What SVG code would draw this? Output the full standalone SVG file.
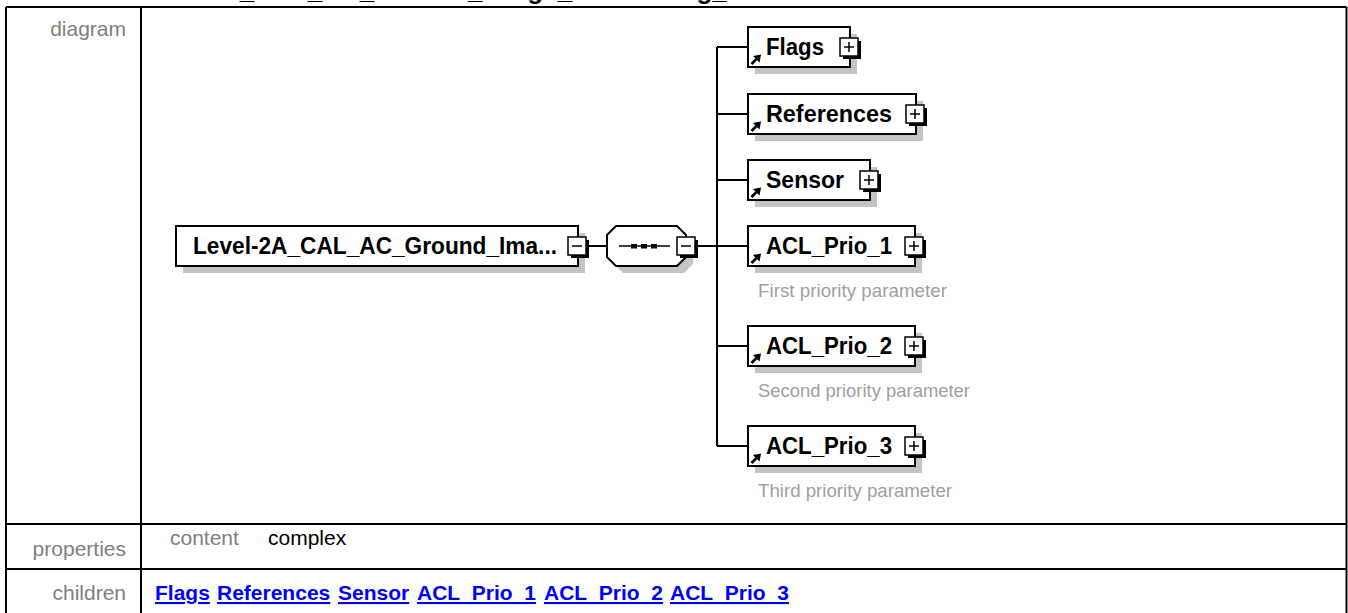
<svg xmlns="http://www.w3.org/2000/svg" xmlns:xlink="http://www.w3.org/1999/xlink" width="1348" height="613" viewBox="0 0 1348 613">
<style>
.heading{font-family:"Liberation Sans",Arial,sans-serif;font-weight:bold;font-size:26px;fill:#000}
.lbl{font-family:"Liberation Sans",Arial,sans-serif;font-size:21px;fill:#808080}
.val{font-family:"Liberation Sans",Arial,sans-serif;font-size:21px;fill:#000}
.link{font-family:"Liberation Sans",Arial,sans-serif;font-weight:bold;font-size:21px;fill:#0000ff;text-decoration:underline}
.grid{stroke:#000;stroke-width:2;fill:none}
.box{fill:#fff;stroke:#000;stroke-width:2}
.shadow{fill:#c4c4c4}
.name{font-family:"Liberation Sans",Arial,sans-serif;font-weight:bold;font-size:23px;fill:#000}
.desc{font-family:"Liberation Sans",Arial,sans-serif;font-size:18.5px;fill:#a0a0a0}
.conn{stroke:#000;stroke-width:2;fill:none}
</style>
<defs>
<g id="plus">
<rect x="3" y="3" width="18" height="18" fill="#000"/>
<rect x="0" y="0" width="18" height="18" fill="#fff" stroke="#000" stroke-width="1.5"/>
<path d="M4 9H14M9 4V14" stroke="#000" stroke-width="1.5"/>
</g>
<g id="minus">
<rect x="3" y="3" width="18" height="18" fill="#000"/>
<rect x="0" y="0" width="18" height="18" fill="#fff" stroke="#000" stroke-width="1.5"/>
<path d="M4 9H14" stroke="#000" stroke-width="1.5"/>
</g>
<g id="refarrow">
<path d="M1.5 11L6.5 6" stroke="#000" stroke-width="2.6"/>
<polygon points="11,1.5 3,3 9.5,9.5" fill="#000"/>
</g>
</defs>

<rect width="1348" height="613" fill="#fff"/>
<text class="heading" x="26" y="-1">element Level-2A_CAL_AC_Ground_Image_Processing_Parameter</text>

<g id="table">
<path class="grid" d="M6 7H1346.5M6 7V620M1346.5 7V620M141 7V620M6 524H1346.5M6 569H1346.5"/>
<text class="lbl" x="126" y="36" text-anchor="end">diagram</text>
<text class="lbl" x="126" y="556" text-anchor="end">properties</text>
<text class="lbl" x="170" y="545">content</text>
<text class="val" x="268" y="545">complex</text>
<text class="lbl" x="126" y="600" text-anchor="end">children</text>
<text class="link" x="155" y="600">Flags</text>
<text class="link" x="217" y="600">References</text>
<text class="link" x="338" y="600">Sensor</text>
<text class="link" x="417" y="600">ACL_Prio_1</text>
<text class="link" x="544" y="600">ACL_Prio_2</text>
<text class="link" x="670" y="600">ACL_Prio_3</text>
</g>

<g id="connectors">
<path class="conn" d="M589 246H607"/>
<path class="conn" d="M698 246H717"/>
<path class="conn" d="M717 47V446"/>
<path class="conn" d="M717 47H748M717 114H748M717 180H748M717 246H748M717 346H748M717 446H748"/>
</g>

<g id="root">
<rect class="shadow" x="183" y="233" width="402" height="40"/>
<rect class="box" x="176" y="226" width="402" height="40"/>
<text class="name" x="193" y="254" textLength="364" lengthAdjust="spacingAndGlyphs">Level-2A_CAL_AC_Ground_Ima...</text>
<use xlink:href="#minus" x="568" y="237"/>
</g>

<g id="sequence">
<polygon class="shadow" points="623,233 684,233 693,242 693,264 684,273 623,273 614,264 614,242"/>
<polygon class="box" points="616,226 677,226 686,235 686,257 677,266 616,266 607,257 607,235"/>
<path d="M619 246H670" stroke="#000" stroke-width="1.5"/>
<rect x="631" y="244" width="6" height="4.5" fill="#000"/>
<rect x="641" y="244" width="6" height="4.5" fill="#000"/>
<rect x="651" y="244" width="6" height="4.5" fill="#000"/>
<use xlink:href="#minus" x="677" y="237"/>
</g>

<g id="node-flags">
<rect class="shadow" x="755" y="34" width="102" height="40"/>
<rect class="box" x="748" y="27" width="102" height="40"/>
<use xlink:href="#refarrow" x="750" y="53"/>
<text class="name" x="766" y="55" textLength="58" lengthAdjust="spacingAndGlyphs">Flags</text>
<use xlink:href="#plus" x="840" y="38"/>
</g>

<g id="node-references">
<rect class="shadow" x="755" y="101" width="168" height="40"/>
<rect class="box" x="748" y="94" width="168" height="40"/>
<use xlink:href="#refarrow" x="750" y="120"/>
<text class="name" x="766" y="122" textLength="126" lengthAdjust="spacingAndGlyphs">References</text>
<use xlink:href="#plus" x="906" y="105"/>
</g>

<g id="node-sensor">
<rect class="shadow" x="755" y="167" width="122" height="40"/>
<rect class="box" x="748" y="160" width="122" height="40"/>
<use xlink:href="#refarrow" x="750" y="186"/>
<text class="name" x="766" y="188" textLength="78" lengthAdjust="spacingAndGlyphs">Sensor</text>
<use xlink:href="#plus" x="860" y="171"/>
</g>

<g id="node-acl1">
<rect class="shadow" x="755" y="233" width="167" height="40"/>
<rect class="box" x="748" y="226" width="167" height="40"/>
<use xlink:href="#refarrow" x="750" y="252"/>
<text class="name" x="766" y="254" textLength="126" lengthAdjust="spacingAndGlyphs">ACL_Prio_1</text>
<use xlink:href="#plus" x="905" y="237"/>
<text class="desc" x="758" y="297" textLength="189" lengthAdjust="spacingAndGlyphs">First priority parameter</text>
</g>

<g id="node-acl2">
<rect class="shadow" x="755" y="333" width="167" height="40"/>
<rect class="box" x="748" y="326" width="167" height="40"/>
<use xlink:href="#refarrow" x="750" y="352"/>
<text class="name" x="766" y="354" textLength="126" lengthAdjust="spacingAndGlyphs">ACL_Prio_2</text>
<use xlink:href="#plus" x="905" y="337"/>
<text class="desc" x="758" y="397" textLength="212" lengthAdjust="spacingAndGlyphs">Second priority parameter</text>
</g>

<g id="node-acl3">
<rect class="shadow" x="755" y="433" width="167" height="40"/>
<rect class="box" x="748" y="426" width="167" height="40"/>
<use xlink:href="#refarrow" x="750" y="452"/>
<text class="name" x="766" y="454" textLength="126" lengthAdjust="spacingAndGlyphs">ACL_Prio_3</text>
<use xlink:href="#plus" x="905" y="437"/>
<text class="desc" x="758" y="497" textLength="194" lengthAdjust="spacingAndGlyphs">Third priority parameter</text>
</g>
</svg>
